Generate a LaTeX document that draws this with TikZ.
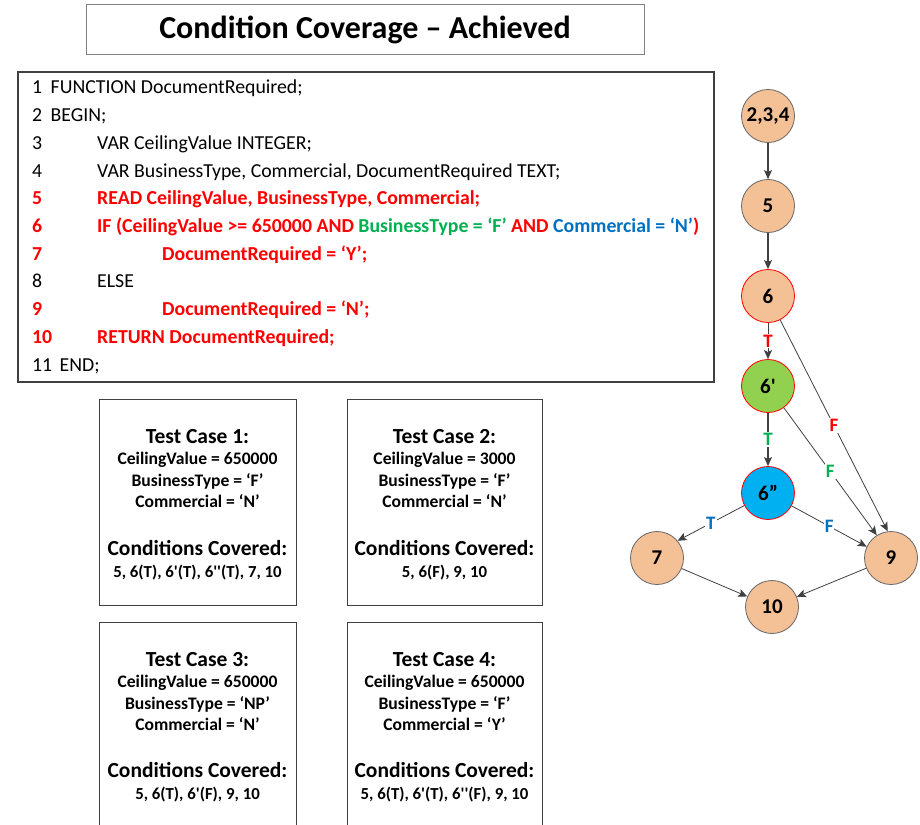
\documentclass[tikz,border=0pt]{standalone}
\usepackage{fontspec}
\setmainfont{Carlito}
\usetikzlibrary{arrows.meta, positioning}

\definecolor{nodefill}{RGB}{244,192,150}
\definecolor{condgreen}{RGB}{146,208,80}
\definecolor{condblue}{RGB}{0,176,240}
\definecolor{codered}{RGB}{255,0,0}
\definecolor{codegreen}{RGB}{0,176,80}
\definecolor{codeblue}{RGB}{0,112,192}
\definecolor{edgegray}{RGB}{64,64,64}

\begin{document}
\begin{tikzpicture}[x=1pt, y=-1pt, >={Stealth[length=9pt, width=8pt, inset=2pt]}]
  \tikzstyle{frame}=[draw=edgegray, line width=1pt, inner sep=0pt]
  \tikzstyle{codeline}=[anchor=base west, inner sep=0pt, font=\fontsize{19.8}{22}\selectfont]
  \tikzstyle{hot}=[codeline, text=codered, font=\fontsize{19.8}{22}\selectfont\bfseries]
  \tikzstyle{tchead}=[anchor=base, inner sep=0pt, font=\fontsize{21.5}{24}\selectfont\bfseries]
  \tikzstyle{tcline}=[anchor=base, inner sep=0pt, font=\fontsize{17.6}{20}\selectfont\bfseries]
  \tikzstyle{tclist}=[anchor=base, inner sep=0pt, font=\fontsize{16.8}{20}\selectfont\bfseries]
  \tikzstyle{block}=[circle, draw=edgegray!80, fill=nodefill, minimum size=53pt, inner sep=0pt,
                     line width=0.8pt, font=\fontsize{21}{24}\selectfont\bfseries]
  \tikzstyle{edge}=[draw=edgegray, line width=1.1pt, ->]
  \tikzstyle{tf}=[midway, fill=white, inner sep=1pt, font=\fontsize{19}{22}\selectfont\bfseries]

  \useasboundingbox (0,0) rectangle (920,824);
  \clip (0,0) rectangle (920,824);

  % title
  \node[frame, draw=gray, minimum width=558pt, minimum height=50pt,
        font=\fontsize{32}{36}\selectfont\bfseries] (title) at (365,30) {Condition Coverage -- Achieved};

  % pseudo code
  \node[frame, line width=1.3pt, minimum width=696pt, minimum height=310pt] (code) at (366,227) {};
  \node[codeline] (line1) at (32,94) {1\hspace{4pt} FUNCTION DocumentRequired;};
  \node[codeline] (line2) at (32,121.7) {2\hspace{4pt} BEGIN;};
  \node[codeline] (num3) at (32,149.4) {3};
  \node[codeline] (line3) at (97,149.4) {VAR CeilingValue INTEGER;};
  \node[codeline] (num4) at (32,177.1) {4};
  \node[codeline] (line4) at (97,177.1) {VAR BusinessType, Commercial, DocumentRequired TEXT;};
  \node[hot] (num5) at (32,204.8) {5};
  \node[hot] (line5) at (97,204.8) {READ CeilingValue, BusinessType, Commercial;};
  \node[hot] (num6) at (32,232.5) {6};
  \node[hot] (line6) at (97,232.5) {IF (CeilingValue >= 650000 AND \textcolor{codegreen}{BusinessType = ‘F’} AND \textcolor{codeblue}{Commercial = ‘N’})};
  \node[hot] (num7) at (32,260.2) {7};
  \node[hot] (line7) at (162,260.2) {DocumentRequired = ‘Y’;};
  \node[codeline] (num8) at (32,287.9) {8};
  \node[codeline] (line8) at (97,287.9) {ELSE};
  \node[hot] (num9) at (32,315.6) {9};
  \node[hot] (line9) at (162,315.6) {DocumentRequired = ‘N’;};
  \node[hot] (num10) at (32,343.3) {10};
  \node[hot] (line10) at (97,343.3) {RETURN DocumentRequired;};
  \node[codeline] (line11) at (32,371) {11\hspace{3pt} END;};

  % test cases
  \node[frame, minimum width=197pt, minimum height=206pt] (tc1) at (197.5,502) {};
  \node[tchead] (tc1head) at (197.5,443) {Test Case 1:};
  \node[tcline] (tc1a) at (197.5,464.5) {CeilingValue = 650000};
  \node[tcline] (tc1b) at (197.5,486.5) {BusinessType = ‘F’};
  \node[tcline] (tc1c) at (197.5,507.5) {Commercial = ‘N’};
  \node[tchead] (tc1cov) at (197.5,555) {Conditions Covered:};
  \node[tclist] (tc1list) at (197.5,577.5) {5, 6(T), 6\textquotesingle(T), 6\textquotesingle\textquotesingle(T), 7, 10};

  \node[frame, minimum width=195pt, minimum height=206pt] (tc2) at (444.5,502) {};
  \node[tchead] (tc2head) at (444.5,443) {Test Case 2:};
  \node[tcline] (tc2a) at (444.5,464.5) {CeilingValue = 3000};
  \node[tcline] (tc2b) at (444.5,486.5) {BusinessType = ‘F’};
  \node[tcline] (tc2c) at (444.5,507.5) {Commercial = ‘N’};
  \node[tchead] (tc2cov) at (444.5,555) {Conditions Covered:};
  \node[tclist] (tc2list) at (444.5,577.5) {5, 6(F), 9, 10};

  \node[frame, minimum width=197pt, minimum height=220pt] (tc3) at (197.5,732) {};
  \node[tchead] (tc3head) at (197.5,666) {Test Case 3:};
  \node[tcline] (tc3a) at (197.5,687.5) {CeilingValue = 650000};
  \node[tcline] (tc3b) at (197.5,709.5) {BusinessType = ‘NP’};
  \node[tcline] (tc3c) at (197.5,730.5) {Commercial = ‘N’};
  \node[tchead] (tc3cov) at (197.5,777) {Conditions Covered:};
  \node[tclist] (tc3list) at (197.5,799.5) {5, 6(T), 6\textquotesingle(F), 9, 10};

  \node[frame, minimum width=195pt, minimum height=220pt] (tc4) at (444.5,732) {};
  \node[tchead] (tc4head) at (444.5,666) {Test Case 4:};
  \node[tcline] (tc4a) at (444.5,687.5) {CeilingValue = 650000};
  \node[tcline] (tc4b) at (444.5,709.5) {BusinessType = ‘F’};
  \node[tcline] (tc4c) at (444.5,730.5) {Commercial = ‘Y’};
  \node[tchead] (tc4cov) at (444.5,777) {Conditions Covered:};
  \node[tclist] (tc4list) at (444.5,799.5) {5, 6(T), 6\textquotesingle(T), 6\textquotesingle\textquotesingle(F), 9, 10};

  % flow graph
  \node[block] (n234) at (768,116) {2,3,4};
  \node[block] (n5) at (768,206) {5};
  \node[block, draw=codered] (n6) at (768,296) {6};
  \node[block, draw=codered, fill=condgreen] (n6p) at (768,386) {6\textquotesingle};
  \node[block, draw=codered, fill=condblue] (n6pp) at (768,493) {6''};
  \node[block] (n7) at (657,558) {7};
  \node[block] (n9) at (891,558) {9};
  \node[block] (n10) at (772,607) {10};

  \draw[edge] (n234) -- (n5);
  \draw[edge] (n5) -- (n6);
  \draw[edge, line width=0.8pt] (n6) -- node[tf, text=codered] {T} (n6p);
  \draw[edge] (n6p) -- node[tf, text=codegreen] {T} (n6pp);
  \draw[edge, line width=0.8pt] (n6) -- node[tf, text=codered] {F} (n9.97);
  \draw[edge, line width=0.8pt] (n6p) -- node[tf, text=codegreen] {F} (n9.122);
  \draw[edge, line width=0.8pt] (n6pp) -- node[tf, text=codeblue] {F} (n9.155);
  \draw[edge, line width=0.8pt] (n6pp) -- node[tf, text=codeblue] {T} (n7.40);
  \draw[edge, line width=0.8pt] (n7) -- (n10);
  \draw[edge, line width=0.8pt] (n9) -- (n10);
\end{tikzpicture}
\end{document}
